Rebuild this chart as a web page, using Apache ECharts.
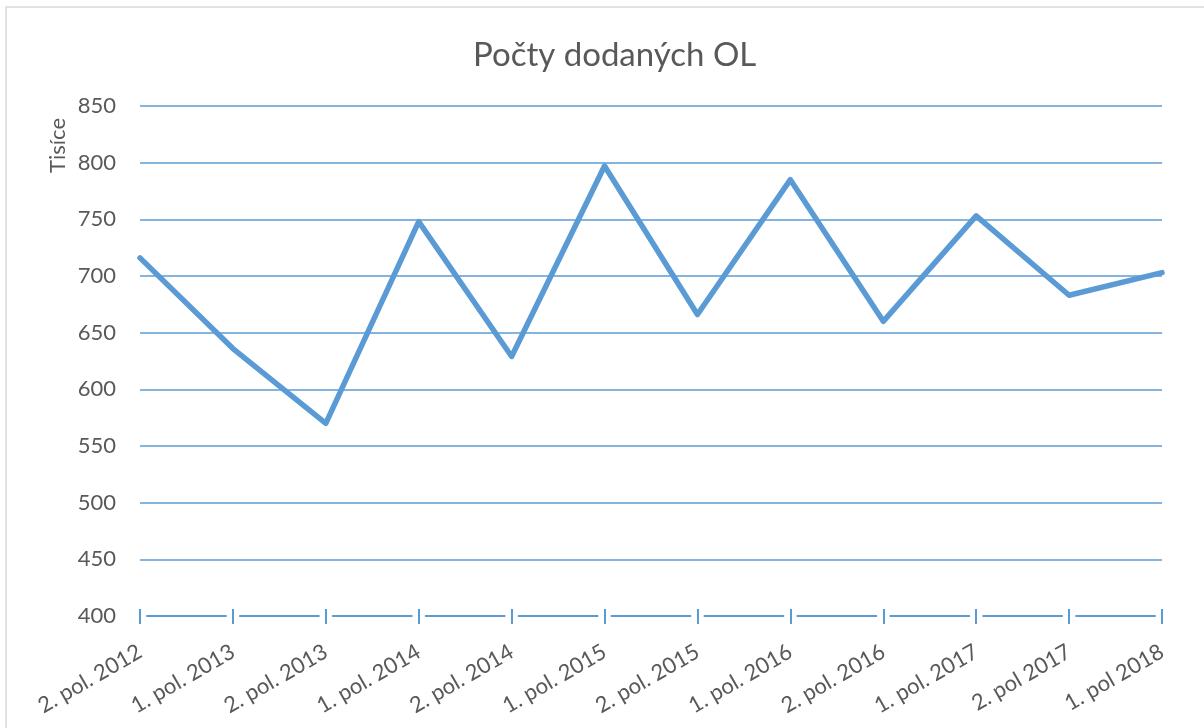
<!DOCTYPE html>
<html>
<head>
<meta charset="utf-8">
<script src="https://cdn.jsdelivr.net/npm/echarts@6/dist/echarts.min.js"></script>
<style>
  html, body { margin: 0; padding: 0; background: #fff; }
  #chart-container { width: 1204px; height: 728px; }
</style>
</head>
<body>
<div id="chart-container"></div>
<script>
var categories = ['2. pol. 2012', '1. pol. 2013', '2. pol. 2013', '1. pol. 2014', '2. pol. 2014', '1. pol. 2015',
  '2. pol. 2015', '1. pol. 2016', '2. pol. 2016', '1. pol. 2017', '2. pol 2017', '1. pol 2018'];
var values = [716, 636, 570, 748, 629, 797, 666, 785, 660, 753, 683, 703];

var dom = document.getElementById('chart-container');
var myChart = echarts.init(dom);

var blue = '#5b9bd5';
var textColor = '#595959';
var font = 'Lato, "Open Sans", sans-serif';

// spacing between category ticks, for the broken axis line
var step = (1204 - 140 - 42) / (categories.length - 1);
var gap = 14;

// no split line at 400, the axis line sits there
var splitColors = ['rgba(0,0,0,0)'];
for (var i = 0; i < 9; i++) splitColors.push(blue);

var option = {
  backgroundColor: '#fff',
  animation: false,
  graphic: [{
    type: 'rect',
    shape: { x: 6, y: 7, width: 1300, height: 800 },
    style: { fill: 'none', stroke: '#d9d9d9', lineWidth: 1.5 },
    silent: true
  }],
  title: {
    text: 'Počty dodaných OL',
    left: 468,
    top: 34,
    textStyle: { color: textColor, fontSize: 33, fontWeight: 'normal', fontFamily: font }
  },
  grid: { left: 140, right: 42, top: 106, bottom: 112 },
  xAxis: [{
    type: 'category',
    data: categories,
    boundaryGap: false,
    axisLine: {
      lineStyle: { color: blue, width: 2, type: [step - gap, gap], dashOffset: step - gap / 2 }
    },
    axisTick: { show: true, length: 8, lineStyle: { color: blue, width: 2 } },
    axisLabel: {
      rotate: 30,
      color: textColor,
      fontSize: 22,
      fontFamily: font,
      margin: 34,
      interval: 0
    }
  }, {
    // second copy of the axis only for the tick halves above the line
    type: 'category',
    data: categories,
    boundaryGap: false,
    position: 'bottom',
    axisLine: { show: false },
    axisTick: { show: true, inside: true, length: 7, lineStyle: { color: blue, width: 2 } },
    axisLabel: { show: false }
  }],
  yAxis: {
    type: 'value',
    min: 400,
    max: 850,
    interval: 50,
    name: 'Tisíce',
    nameLocation: 'end',
    nameRotate: 90,
    nameGap: 0,
    nameTextStyle: { color: textColor, fontSize: 22, fontFamily: font, align: 'right', verticalAlign: 'bottom', padding: [0, 12, 71, 0] },
    axisLine: { show: false },
    axisTick: { show: false },
    axisLabel: { color: textColor, fontSize: 22, fontFamily: font, margin: 24 },
    splitLine: { lineStyle: { color: splitColors, width: 1.5 } }
  },
  series: [{
    type: 'line',
    data: values,
    symbol: 'none',
    lineStyle: { color: blue, width: 5.5, cap: 'round', join: 'round' }
  }]
};

myChart.setOption(option);
</script>
</body>
</html>
